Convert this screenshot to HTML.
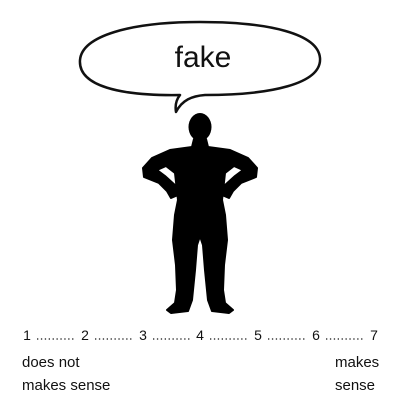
<!DOCTYPE html>
<html><head><meta charset="utf-8"><style>
html,body{margin:0;padding:0;background:#fff;}
svg{display:block}
text{font-family:"Liberation Sans",sans-serif;fill:#111}
</style></head><body>
<svg width="400" height="400" viewBox="0 0 400 400" xmlns="http://www.w3.org/2000/svg">
<path d="M180,95 C120,96 78,86 80,60 C82,36 130,22 200,22 C270,22 318,34 320,58 C322,84 270,95 205,95 C192,96 182,100 176,112 C175,106 176,100 180,95 Z" fill="#fff" stroke="#111" stroke-width="2.5" stroke-linejoin="round"/>
<text x="203" y="67" font-size="30" text-anchor="middle">fake</text>
<ellipse cx="200" cy="127" rx="11.5" ry="14" fill="#000"/>
<path d="M194,139 L206,139 L208,147 L230,150 L248,158 L257,168 L256,177 L241,183 L233,191 L229,198 L222,195 L224,186 L235,176 L243,170 L234,166 L225,173 L222,200 L225,215 L227,240 L224,265 L223,290 L225,303 L233,310 L229,313 L212,311 L208,300 L205,270 L203,245 L200,236 L197,245 L195,270 L192,300 L188,311 L171,313 L167,310 L175,303 L177,290 L176,265 L173,240 L175,215 L178,200 L175,173 L166,166 L157,170 L165,176 L176,186 L178,195 L171,198 L167,191 L159,183 L144,177 L143,168 L152,158 L170,150 L192,147 Z" fill="#000" stroke="#000" stroke-width="2" stroke-linejoin="round"/>
<g font-size="14">
<text x="27" y="340" text-anchor="middle">1</text>
<text x="85" y="340" text-anchor="middle">2</text>
<text x="143" y="340" text-anchor="middle">3</text>
<text x="200" y="340" text-anchor="middle">4</text>
<text x="258" y="340" text-anchor="middle">5</text>
<text x="316" y="340" text-anchor="middle">6</text>
<text x="374" y="340" text-anchor="middle">7</text>
</g>
<g stroke="#111" stroke-width="1.3" stroke-dasharray="1.3,2.6">
<line x1="37" y1="339" x2="76" y2="339"/>
<line x1="95" y1="339" x2="134" y2="339"/>
<line x1="153" y1="339" x2="191" y2="339"/>
<line x1="210" y1="339" x2="249" y2="339"/>
<line x1="268" y1="339" x2="307" y2="339"/>
<line x1="326" y1="339" x2="365" y2="339"/>
</g>
<g font-size="15">
<text x="22" y="367">does not</text>
<text x="22" y="390">makes sense</text>
<text x="335" y="367">makes</text>
<text x="335" y="390">sense</text>
</g>
</svg>
</body></html>
